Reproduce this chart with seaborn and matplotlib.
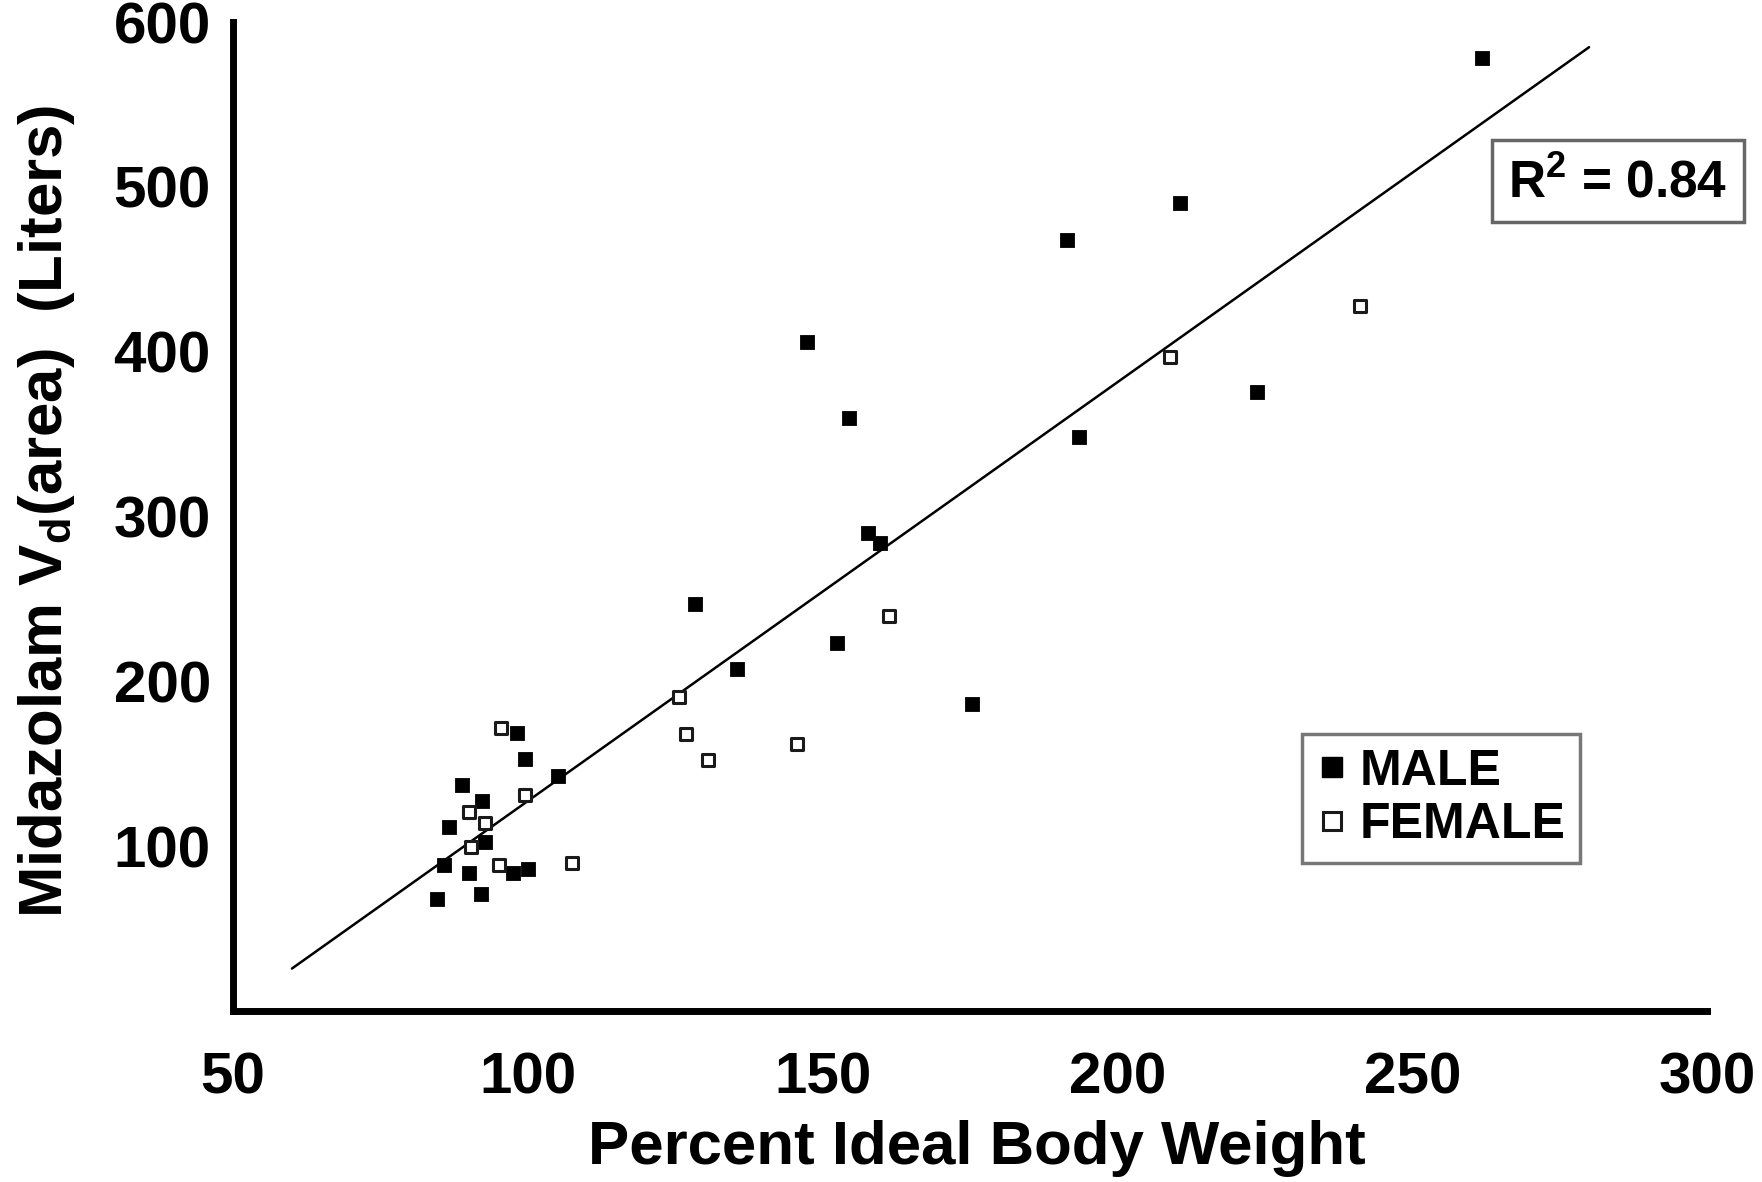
import numpy as np
import pandas as pd
import matplotlib
matplotlib.use("Agg")
import matplotlib.pyplot as plt
from matplotlib.lines import Line2D
from matplotlib.patches import Rectangle
import seaborn as sns

# Percent ideal body weight vs. midazolam volume of distribution
male_x = [261.8, 210.6, 191.5, 147.3, 154.5, 223.7, 193.5, 157.7, 159.7, 128.3,
          152.5, 135.4, 175.4, 98.1, 99.6, 105.2, 88.9, 92.3, 86.6, 92.8,
          85.8, 90.0, 97.5, 100.0, 84.6, 92.1]
male_y = [578, 490, 468, 406, 360, 375.5, 348.5, 290, 284, 247,
          223, 207.5, 186, 168.8, 152.6, 142.7, 136.9, 127.2, 111.9, 102.4,
          88.8, 84.0, 83.7, 86.1, 67.8, 70.9]

female_x = [241.1, 209.0, 161.3, 125.6, 126.8, 130.5, 145.7, 95.4, 99.6, 90.1,
            92.8, 90.4, 95.2, 107.5]
female_y = [428, 397, 239.7, 190.7, 168.1, 152.3, 161.8, 171.4, 130.8, 121.0,
            114.2, 99.3, 88.8, 89.7]

group_labels = ["MALE", "FEMALE"]
r_squared = 0.84
fit_x_range = [60, 280]

x_ticks = [50, 100, 150, 200, 250, 300]
y_ticks = [0, 100, 200, 300, 400, 500, 600]
y_tick_labels = ["", "100", "200", "300", "400", "500", "600"]

df = pd.DataFrame({
    "pibw": male_x + female_x,
    "vd": male_y + female_y,
    "sex": [group_labels[0]] * len(male_x) + [group_labels[1]] * len(female_x),
})

sns.set_theme(style="white")
plt.rcParams["font.family"] = ["Liberation Sans", "DejaVu Sans"]
plt.rcParams["font.weight"] = "bold"
plt.rcParams["text.color"] = "black"
plt.rcParams["axes.labelcolor"] = "black"
plt.rcParams["xtick.color"] = "black"
plt.rcParams["ytick.color"] = "black"
plt.rcParams["mathtext.fontset"] = "custom"
plt.rcParams["mathtext.rm"] = "Liberation Sans:bold"
plt.rcParams["mathtext.it"] = "Liberation Sans:bold"
plt.rcParams["mathtext.bf"] = "Liberation Sans:bold"

fig = plt.figure(figsize=(17.62, 11.82), dpi=100)
ax = fig.add_axes([233 / 1762, 1 - 1011 / 1182, 1474 / 1762, 989 / 1182])

males = df[df["sex"] == group_labels[0]]
females = df[df["sex"] == group_labels[1]]

sns.scatterplot(data=males, x="pibw", y="vd", marker="s", s=90,
                color="black", edgecolor="black", linewidth=0.6, ax=ax,
                zorder=3, legend=False)
sns.scatterplot(data=females, x="pibw", y="vd", marker="s", s=85,
                facecolor="white", edgecolor="#1a1a1a", linewidth=2.2, ax=ax,
                zorder=3, legend=False)

# least-squares fit over all subjects
slope, intercept = np.polyfit(df["pibw"], df["vd"], 1)
fx = np.array(fit_x_range, dtype=float)
sns.lineplot(x=fx, y=slope * fx + intercept, color="black", linewidth=1.8,
             ax=ax, zorder=2)

ax.set_xlim(50, 300)
ax.set_ylim(0, 600)
ax.set_xticks(x_ticks)
ax.set_yticks(y_ticks)
ax.set_yticklabels(y_tick_labels)
sns.despine(ax=ax)
for side in ("left", "bottom"):
    ax.spines[side].set_linewidth(5)
    ax.spines[side].set_color("black")
ax.tick_params(axis="both", direction="out", length=8, width=2.5,
               color="black", labelsize=42, labelcolor="black")
ax.tick_params(axis="x", pad=21)
ax.tick_params(axis="y", pad=8)
for lbl in ax.get_xticklabels() + ax.get_yticklabels():
    lbl.set_fontweight("bold")

ax.set_xlabel("Percent Ideal Body Weight", fontsize=44.5, fontweight="bold",
              color="black")
ax.set_ylabel(r"Midazolam V$_{\mathrm{d}}$(area)  (Liters)", fontsize=44.5,
              fontweight="bold", color="black")
ax.xaxis.set_label_coords(0.505, -0.11)
ax.yaxis.set_label_coords(-0.106, 0.505)

# R-squared annotation box
fig.patches.append(Rectangle((1492 / 1762, 1 - 222 / 1182), 252 / 1762, 82 / 1182,
                             transform=fig.transFigure, fill=False,
                             edgecolor="#666666", linewidth=2.5))
fig.text(1618 / 1762, 1 - 184 / 1182, rf"R$^{{2}}$ = {r_squared:.2f}",
         ha="center", va="center", fontsize=37, fontweight="bold")

handles = [
    Line2D([], [], linestyle="none", marker="s", markersize=14,
           markerfacecolor="black", markeredgecolor="black"),
    Line2D([], [], linestyle="none", marker="s", markersize=13,
           markerfacecolor="white", markeredgecolor="#1a1a1a",
           markeredgewidth=2.2),
]
leg = ax.legend(handles, group_labels, loc="upper left",
                bbox_to_anchor=(0.7252, 0.2801), borderaxespad=0,
                prop={"size": 36, "weight": "bold"}, frameon=True,
                fancybox=False, handlelength=0.6, handletextpad=0.25,
                labelspacing=0.15, borderpad=0.3)
leg.get_frame().set_edgecolor("#555555")
leg.get_frame().set_linewidth(2.5)

fig.savefig("out.png", dpi=100, facecolor="white")
